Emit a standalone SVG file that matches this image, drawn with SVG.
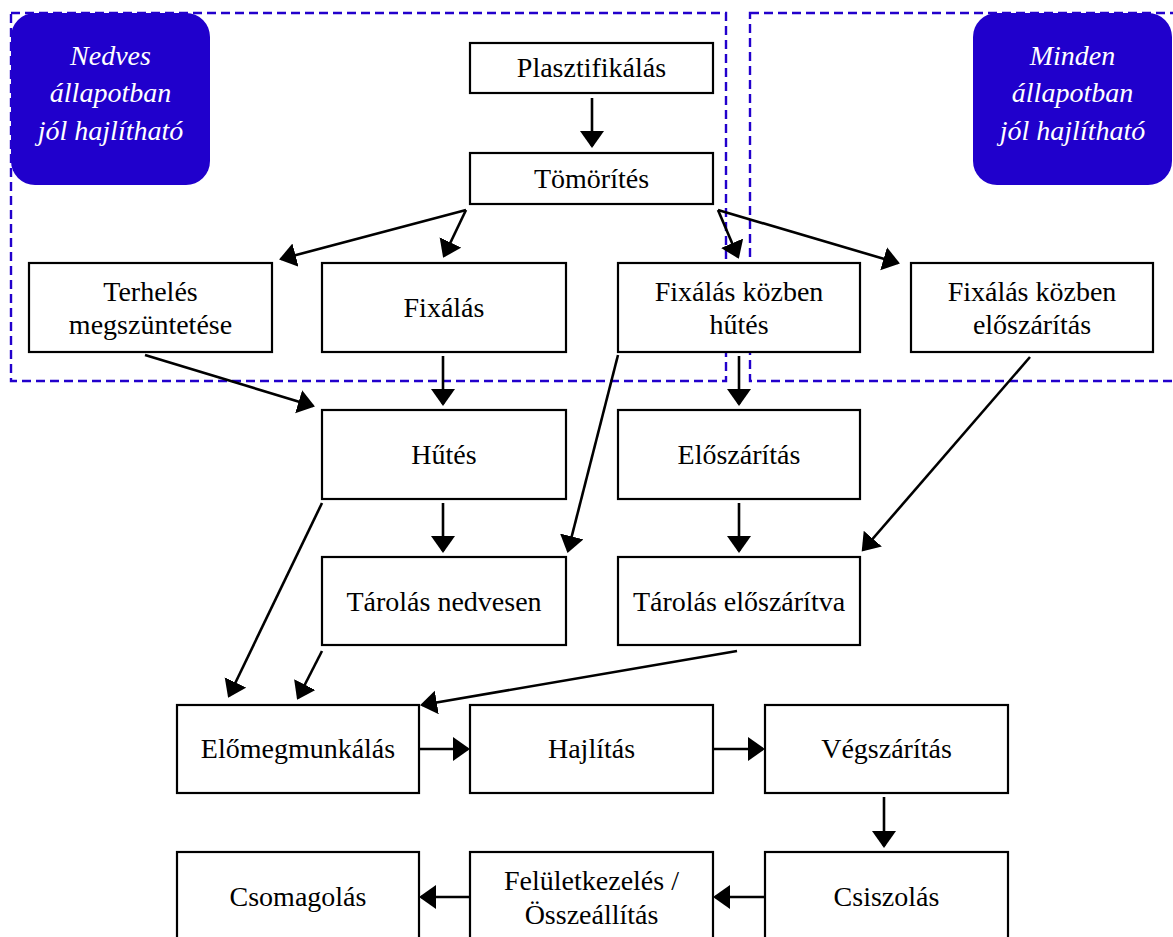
<svg xmlns="http://www.w3.org/2000/svg" width="1173" height="937" viewBox="0 0 1173 937">
<style>
.box{fill:#fff;stroke:#000;stroke-width:2.2}
.t{font-family:"Liberation Serif","Times New Roman",serif;font-size:28px;fill:#000;text-anchor:middle}
.bt{font-family:"Liberation Serif","Times New Roman",serif;font-size:28px;font-style:italic;fill:#fff;text-anchor:middle}
.zone{fill:none;stroke:#2200cc;stroke-width:2.4;stroke-dasharray:9,5}
.blue{fill:#2000cc}
.c line{stroke:#000;stroke-width:2.6;marker-end:url(#ah)}
</style>
<defs>
<marker id="ah" markerUnits="userSpaceOnUse" markerWidth="18" markerHeight="26" refX="15" refY="12" orient="auto">
<path d="M0,0 L17,12 L0,24 z" fill="#000"/>
</marker>
</defs>
<rect width="1173" height="937" fill="#fff"/>
<g id="zone-wet">
<rect class="blue" x="11" y="13" width="199" height="172" rx="24"/>
<text class="bt" x="110.5" y="65">Nedves</text>
<text class="bt" x="110.5" y="102">állapotban</text>
<text class="bt" x="110.5" y="140">jól hajlítható</text>
<rect class="zone" x="11" y="13" width="715" height="368"/>
</g>
<g id="zone-all">
<rect class="blue" x="973" y="13" width="199" height="172" rx="24"/>
<text class="bt" x="1072.5" y="65">Minden</text>
<text class="bt" x="1072.5" y="102">állapotban</text>
<text class="bt" x="1072.5" y="140">jól hajlítható</text>
<rect class="zone" x="750" y="13" width="440" height="368"/>
</g>
<g class="c" id="connectors">
<line x1="592" y1="98" x2="592" y2="146"/>
<line x1="466" y1="210" x2="281" y2="259"/>
<line x1="466" y1="210" x2="444" y2="256"/>
<line x1="718" y1="210" x2="738" y2="257"/>
<line x1="718" y1="210" x2="898" y2="263"/>
<line x1="145" y1="355" x2="313" y2="406"/>
<line x1="443" y1="356" x2="443" y2="404"/>
<line x1="739" y1="356" x2="739" y2="404"/>
<line x1="618" y1="355" x2="568" y2="551"/>
<line x1="1030" y1="357" x2="863" y2="550"/>
<line x1="443" y1="503" x2="443" y2="551"/>
<line x1="739" y1="503" x2="739" y2="551"/>
<line x1="322" y1="503" x2="229" y2="696"/>
<line x1="322" y1="651" x2="298" y2="698"/>
<line x1="737" y1="651" x2="422" y2="705"/>
<line x1="419" y1="749" x2="468" y2="749"/>
<line x1="713" y1="749" x2="763" y2="749"/>
<line x1="884" y1="797" x2="884" y2="846"/>
<line x1="765" y1="897" x2="715" y2="897"/>
<line x1="470" y1="897" x2="421" y2="897"/>
</g>
<g id="plasztifikalas"><rect class="box" x="470" y="43" width="243" height="50"/><text class="t" x="591.5" y="77">Plasztifikálás</text></g>
<g id="tomorites"><rect class="box" x="470" y="153" width="243" height="51"/><text class="t" x="591.5" y="188">Tömörítés</text></g>
<g id="terheles"><rect class="box" x="29" y="263" width="243" height="89"/><text class="t" x="150.5" y="301">Terhelés</text><text class="t" x="150.5" y="334">megszüntetése</text></g>
<g id="fixalas"><rect class="box" x="322" y="263" width="244" height="89"/><text class="t" x="444" y="317">Fixálás</text></g>
<g id="fixalas-hutes"><rect class="box" x="618" y="263" width="242" height="89"/><text class="t" x="739" y="301">Fixálás közben</text><text class="t" x="739" y="334">hűtés</text></g>
<g id="fixalas-eloszaritas"><rect class="box" x="911" y="263" width="242" height="89"/><text class="t" x="1032" y="301">Fixálás közben</text><text class="t" x="1032" y="334">előszárítás</text></g>
<g id="hutes"><rect class="box" x="322" y="410" width="244" height="89"/><text class="t" x="444" y="464">Hűtés</text></g>
<g id="eloszaritas"><rect class="box" x="618" y="410" width="242" height="89"/><text class="t" x="739" y="464">Előszárítás</text></g>
<g id="tarolas-nedvesen"><rect class="box" x="322" y="557" width="244" height="88"/><text class="t" x="444" y="611">Tárolás nedvesen</text></g>
<g id="tarolas-eloszaritva"><rect class="box" x="618" y="557" width="242" height="88"/><text class="t" x="739" y="611">Tárolás előszárítva</text></g>
<g id="elomegmunkalas"><rect class="box" x="177" y="705" width="242" height="88"/><text class="t" x="298" y="758">Előmegmunkálás</text></g>
<g id="hajlitas"><rect class="box" x="470" y="705" width="243" height="88"/><text class="t" x="591.5" y="758">Hajlítás</text></g>
<g id="vegszaritas"><rect class="box" x="765" y="705" width="243" height="88"/><text class="t" x="886.5" y="758">Végszárítás</text></g>
<g id="csomagolas"><rect class="box" x="177" y="852" width="242" height="92"/><text class="t" x="298" y="906">Csomagolás</text></g>
<g id="feluletkezeles"><rect class="box" x="470" y="852" width="243" height="92"/><text class="t" x="591.5" y="890">Felületkezelés /</text><text class="t" x="591.5" y="924">Összeállítás</text></g>
<g id="csiszolas"><rect class="box" x="765" y="852" width="243" height="92"/><text class="t" x="886.5" y="906">Csiszolás</text></g>
</svg>
